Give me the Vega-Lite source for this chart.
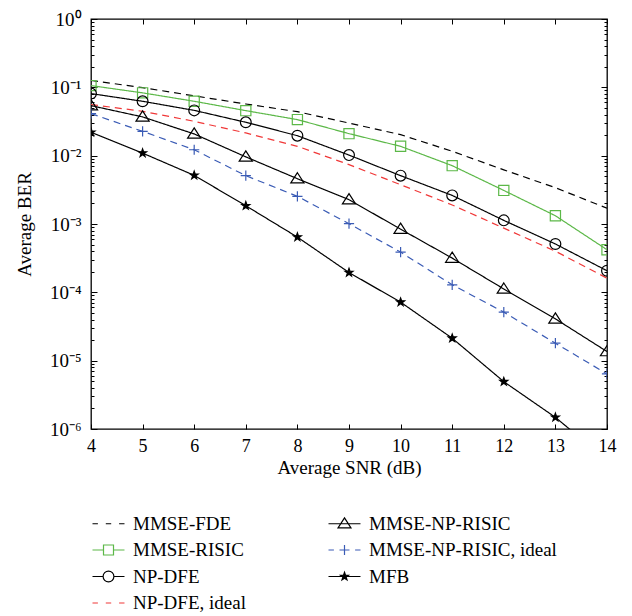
{
  "$schema": "https://vega.github.io/schema/vega-lite/v6.json",
  "autosize": {"type": "none"},
  "padding": {"left": 91, "top": 19, "right": 25, "bottom": 187},
  "width": 516,
  "height": 410,
  "config": {
    "font": "Liberation Serif",
    "view": {"stroke": "#000000", "strokeWidth": 1.3},
    "axis": {"grid": false, "domain": false, "tickColor": "#000000", "tickWidth": 1, "labelColor": "#000000", "titleColor": "#000000", "labelFont": "Liberation Serif", "titleFont": "Liberation Serif", "titleFontWeight": "normal"}
  },
  "data": {
    "values": [
      {"series": "MMSE-FDE", "snr": 4, "ber": 0.126},
      {"series": "MMSE-FDE", "snr": 5, "ber": 0.099},
      {"series": "MMSE-FDE", "snr": 6, "ber": 0.075},
      {"series": "MMSE-FDE", "snr": 7, "ber": 0.057},
      {"series": "MMSE-FDE", "snr": 8, "ber": 0.044},
      {"series": "MMSE-FDE", "snr": 9, "ber": 0.030},
      {"series": "MMSE-FDE", "snr": 10, "ber": 0.0203},
      {"series": "MMSE-FDE", "snr": 11, "ber": 0.0116},
      {"series": "MMSE-FDE", "snr": 12, "ber": 0.0062},
      {"series": "MMSE-FDE", "snr": 13, "ber": 0.0034},
      {"series": "MMSE-FDE", "snr": 14, "ber": 0.0017},
      {"series": "MMSE-RISIC", "snr": 4, "ber": 0.106},
      {"series": "MMSE-RISIC", "snr": 5, "ber": 0.083},
      {"series": "MMSE-RISIC", "snr": 6, "ber": 0.0625},
      {"series": "MMSE-RISIC", "snr": 7, "ber": 0.0456},
      {"series": "MMSE-RISIC", "snr": 8, "ber": 0.0337},
      {"series": "MMSE-RISIC", "snr": 9, "ber": 0.021},
      {"series": "MMSE-RISIC", "snr": 10, "ber": 0.0137},
      {"series": "MMSE-RISIC", "snr": 11, "ber": 0.00714},
      {"series": "MMSE-RISIC", "snr": 12, "ber": 0.0031},
      {"series": "MMSE-RISIC", "snr": 13, "ber": 0.00132},
      {"series": "MMSE-RISIC", "snr": 14, "ber": 0.00042},
      {"series": "NP-DFE", "snr": 4, "ber": 0.081},
      {"series": "NP-DFE", "snr": 5, "ber": 0.0625},
      {"series": "NP-DFE", "snr": 6, "ber": 0.046},
      {"series": "NP-DFE", "snr": 7, "ber": 0.0308},
      {"series": "NP-DFE", "snr": 8, "ber": 0.0196},
      {"series": "NP-DFE", "snr": 9, "ber": 0.0102},
      {"series": "NP-DFE", "snr": 10, "ber": 0.0051},
      {"series": "NP-DFE", "snr": 11, "ber": 0.00262},
      {"series": "NP-DFE", "snr": 12, "ber": 0.00113},
      {"series": "NP-DFE", "snr": 13, "ber": 0.00051},
      {"series": "NP-DFE", "snr": 14, "ber": 0.000207},
      {"series": "NP-DFE, ideal", "snr": 4, "ber": 0.056},
      {"series": "NP-DFE, ideal", "snr": 5, "ber": 0.0446},
      {"series": "NP-DFE, ideal", "snr": 6, "ber": 0.0318},
      {"series": "NP-DFE, ideal", "snr": 7, "ber": 0.0215},
      {"series": "NP-DFE, ideal", "snr": 8, "ber": 0.0137},
      {"series": "NP-DFE, ideal", "snr": 9, "ber": 0.0074},
      {"series": "NP-DFE, ideal", "snr": 10, "ber": 0.00376},
      {"series": "NP-DFE, ideal", "snr": 11, "ber": 0.0019},
      {"series": "NP-DFE, ideal", "snr": 12, "ber": 0.00087},
      {"series": "NP-DFE, ideal", "snr": 13, "ber": 0.0004},
      {"series": "NP-DFE, ideal", "snr": 14, "ber": 0.000161},
      {"series": "MMSE-NP-RISIC", "snr": 4, "ber": 0.054},
      {"series": "MMSE-NP-RISIC", "snr": 5, "ber": 0.0369},
      {"series": "MMSE-NP-RISIC", "snr": 6, "ber": 0.0208},
      {"series": "MMSE-NP-RISIC", "snr": 7, "ber": 0.0096},
      {"series": "MMSE-NP-RISIC", "snr": 8, "ber": 0.0046},
      {"series": "MMSE-NP-RISIC", "snr": 9, "ber": 0.00227},
      {"series": "MMSE-NP-RISIC", "snr": 10, "ber": 0.00084},
      {"series": "MMSE-NP-RISIC", "snr": 11, "ber": 0.000317},
      {"series": "MMSE-NP-RISIC", "snr": 12, "ber": 0.000112},
      {"series": "MMSE-NP-RISIC", "snr": 13, "ber": 0.0000409},
      {"series": "MMSE-NP-RISIC", "snr": 14, "ber": 0.0000136},
      {"series": "MMSE-NP-RISIC, ideal", "snr": 4, "ber": 0.0412},
      {"series": "MMSE-NP-RISIC, ideal", "snr": 5, "ber": 0.0227},
      {"series": "MMSE-NP-RISIC, ideal", "snr": 6, "ber": 0.0122},
      {"series": "MMSE-NP-RISIC, ideal", "snr": 7, "ber": 0.0051},
      {"series": "MMSE-NP-RISIC, ideal", "snr": 8, "ber": 0.00254},
      {"series": "MMSE-NP-RISIC, ideal", "snr": 9, "ber": 0.00101},
      {"series": "MMSE-NP-RISIC, ideal", "snr": 10, "ber": 0.000388},
      {"series": "MMSE-NP-RISIC, ideal", "snr": 11, "ber": 0.000129},
      {"series": "MMSE-NP-RISIC, ideal", "snr": 12, "ber": 0.0000513},
      {"series": "MMSE-NP-RISIC, ideal", "snr": 13, "ber": 0.000018},
      {"series": "MMSE-NP-RISIC, ideal", "snr": 14, "ber": 0.0000064},
      {"series": "MFB", "snr": 4, "ber": 0.022},
      {"series": "MFB", "snr": 5, "ber": 0.0109},
      {"series": "MFB", "snr": 6, "ber": 0.00515},
      {"series": "MFB", "snr": 7, "ber": 0.00185},
      {"series": "MFB", "snr": 8, "ber": 0.000643},
      {"series": "MFB", "snr": 9, "ber": 0.000195},
      {"series": "MFB", "snr": 10, "ber": 0.0000718},
      {"series": "MFB", "snr": 11, "ber": 0.0000213},
      {"series": "MFB", "snr": 12, "ber": 0.00000493},
      {"series": "MFB", "snr": 13, "ber": 0.00000148},
      {"series": "MFB", "snr": 14, "ber": 0.00000035}
    ]
  },
  "layer": [
    {
      "mark": {"type": "line", "clip": true, "strokeWidth": 1.2},
      "encoding": {
        "x": {"field": "snr", "type": "quantitative", "scale": {"domain": [4, 14], "nice": false, "zero": false},
          "axis": {"orient": "bottom", "values": [4,5,6,7,8,9,10,11,12,13,14], "tickSize": -5, "labelPadding": 13, "labelFontSize": 18, "title": "Average SNR (dB)", "titleFontSize": 19, "titlePadding": 3, "labelFlush": false}},
        "y": {"field": "ber", "type": "quantitative", "scale": {"type": "log", "domain": [0.000001, 1], "nice": false},
          "axis": {"orient": "left", "values": [0.000001,0.000002,0.000003,0.000004,0.000005,0.000006,0.000007,0.000008,0.000009,0.00001,0.00002,0.00003,0.00004,0.00005,0.00006,0.00007,0.00008,0.00009,0.0001,0.0002,0.0003,0.0004,0.0005,0.0006,0.0007,0.0008,0.0009,0.001,0.002,0.003,0.004,0.005,0.006,0.007,0.008,0.009,0.01,0.02,0.03,0.04,0.05,0.06,0.07,0.08,0.09,0.1,0.2,0.3,0.4,0.5,0.6,0.7,0.8,0.9,1],
            "tickSize": {"condition": {"test": "abs(log(datum.value)/LN10 - round(log(datum.value)/LN10)) < 0.000001", "value": -6}, "value": -3},
            "labelExpr": "abs(log(datum.value)/LN10 - round(log(datum.value)/LN10)) < 0.000001 ? '10' + ['⁰','⁻¹','⁻²','⁻³','⁻⁴','⁻⁵','⁻⁶'][-round(log(datum.value)/LN10)] : ''",
            "labelOverlap": false, "labelFlush": false, "labelPadding": 16, "labelFontSize": 19, "labelBaseline": "middle",
            "title": "Average BER", "titleFontSize": 19, "titlePadding": 15}},
        "stroke": {"field": "series", "type": "nominal", "legend": null,
          "scale": {"domain": ["MMSE-FDE","MMSE-RISIC","NP-DFE","NP-DFE, ideal","MMSE-NP-RISIC","MMSE-NP-RISIC, ideal","MFB"],
            "range": ["#000000","#5cb848","#000000","#f03838","#000000","#3a5bb5","#000000"]}},
        "strokeDash": {"field": "series", "type": "nominal", "legend": null,
          "scale": {"domain": ["MMSE-FDE","MMSE-RISIC","NP-DFE","NP-DFE, ideal","MMSE-NP-RISIC","MMSE-NP-RISIC, ideal","MFB"],
            "range": [[7,5],[1,0],[1,0],[7,5],[1,0],[7,5],[1,0]]}}
      }
    },
    {
      "transform": [{"filter": "datum.series != 'MMSE-FDE' && datum.series != 'NP-DFE, ideal'"}],
      "mark": {"type": "point", "clip": true, "size": 144, "strokeWidth": 1.2, "opacity": 1},
      "encoding": {
        "x": {"field": "snr", "type": "quantitative",
          "axis": {"orient": "top", "values": [4,5,6,7,8,9,10,11,12,13,14], "tickSize": -5, "labels": false, "title": null}},
        "y": {"field": "ber", "type": "quantitative",
          "axis": {"orient": "right", "values": [0.000001,0.000002,0.000003,0.000004,0.000005,0.000006,0.000007,0.000008,0.000009,0.00001,0.00002,0.00003,0.00004,0.00005,0.00006,0.00007,0.00008,0.00009,0.0001,0.0002,0.0003,0.0004,0.0005,0.0006,0.0007,0.0008,0.0009,0.001,0.002,0.003,0.004,0.005,0.006,0.007,0.008,0.009,0.01,0.02,0.03,0.04,0.05,0.06,0.07,0.08,0.09,0.1,0.2,0.3,0.4,0.5,0.6,0.7,0.8,0.9,1],
            "tickSize": {"condition": {"test": "abs(log(datum.value)/LN10 - round(log(datum.value)/LN10)) < 0.000001", "value": -6}, "value": -3},
            "labels": false, "title": null}},
        "stroke": {"field": "series", "type": "nominal", "legend": null,
          "scale": {"domain": ["MMSE-FDE","MMSE-RISIC","NP-DFE","NP-DFE, ideal","MMSE-NP-RISIC","MMSE-NP-RISIC, ideal","MFB"],
            "range": ["#000000","#5cb848","#000000","#f03838","#000000","#3a5bb5","#000000"]}},
        "fill": {"field": "series", "type": "nominal", "legend": null,
          "scale": {"domain": ["MMSE-FDE","MMSE-RISIC","NP-DFE","NP-DFE, ideal","MMSE-NP-RISIC","MMSE-NP-RISIC, ideal","MFB"],
            "range": ["transparent","transparent","transparent","transparent","transparent","transparent","#000000"]}},
        "shape": {"field": "series", "type": "nominal", "legend": null,
          "scale": {"domain": ["MMSE-FDE","MMSE-RISIC","NP-DFE","NP-DFE, ideal","MMSE-NP-RISIC","MMSE-NP-RISIC, ideal","MFB"],
            "range": ["M0,0", "M-0.85,-0.85H0.85V0.85H-0.85Z", "M0.9,0A0.9,0.9,0,1,1,-0.9,0A0.9,0.9,0,1,1,0.9,0Z", "M0,0", "M0,-1L1.1,0.7L-1.1,0.7Z", "M-0.85,0H0.85M0,-0.85V0.85", "M0,-0.7L0.165,-0.227L0.666,-0.216L0.266,0.087L0.412,0.566L0,0.28L-0.412,0.566L-0.266,0.087L-0.666,-0.216L-0.165,-0.227Z"]}}
      }
    },
    {
      "transform": [{"filter": "false"}],
      "mark": {"type": "point", "size": 729, "strokeWidth": 1.2, "opacity": 1},
      "encoding": {
        "stroke": {"field": "series", "type": "nominal",
          "scale": {"domain": ["MMSE-FDE","MMSE-RISIC","NP-DFE","NP-DFE, ideal","MMSE-NP-RISIC","MMSE-NP-RISIC, ideal","MFB"],
            "range": ["#000000","#5cb848","#000000","#f03838","#000000","#3a5bb5","#000000"]},
          "legend": {"orient": "none", "legendX": 3, "legendY": 490, "columns": 2, "columnPadding": 80, "rowPadding": 1.5, "labelFont": "Liberation Serif", "labelFontSize": 19, "labelOffset": 10, "labelLimit": 0, "labelColor": "#000000", "title": null, "symbolSize": 729, "symbolStrokeWidth": 1.2}},
        "fill": {"field": "series", "type": "nominal",
          "scale": {"domain": ["MMSE-FDE","MMSE-RISIC","NP-DFE","NP-DFE, ideal","MMSE-NP-RISIC","MMSE-NP-RISIC, ideal","MFB"],
            "range": ["transparent","transparent","transparent","transparent","transparent","transparent","#000000"]}},
        "shape": {"field": "series", "type": "nominal",
          "scale": {"domain": ["MMSE-FDE","MMSE-RISIC","NP-DFE","NP-DFE, ideal","MMSE-NP-RISIC","MMSE-NP-RISIC, ideal","MFB"],
            "range": [
              "M-1.185,0H-0.785M-0.2,0H0.2M0.785,0H1.185",
              "M-1.185,0H-0.37M0.37,0H1.185M-0.37,-0.37H0.37V0.37H-0.37Z",
              "M-1.185,0H-0.4M0.4,0H1.185M0.4,0A0.4,0.4,0,1,1,-0.4,0A0.4,0.4,0,1,1,0.4,0Z",
              "M-1.185,0H-0.785M-0.2,0H0.2M0.785,0H1.185",
              "M-1.185,0H1.185M0,-0.44L0.48,0.31L-0.48,0.31Z",
              "M-1.185,0H-0.785M-0.37,0H0.37M0,-0.37V0.37M0.785,0H1.185",
              "M-1.185,0H1.185M0,-0.31L0.073,-0.1L0.295,-0.096L0.118,0.038L0.182,0.251L0,0.124L-0.182,0.251L-0.118,0.038L-0.295,-0.096L-0.073,-0.1Z"
            ]}}
      }
    }
  ],
  "resolve": {
    "scale": {"shape": "independent", "stroke": "independent", "fill": "independent", "strokeDash": "independent"},
    "axis": {"x": "independent", "y": "independent"}
  }
}
